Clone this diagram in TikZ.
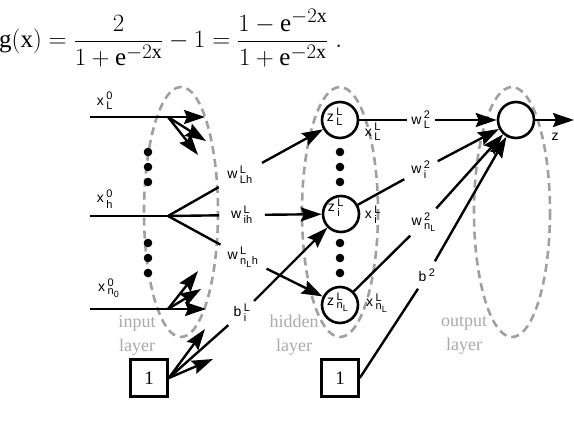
\documentclass[tikz,border=0pt]{standalone}
\usepackage{amsmath}
\usepackage{fontspec}
\setmainfont{Liberation Serif}
\setsansfont{Liberation Sans}
\usetikzlibrary{arrows.meta, positioning}
\definecolor{dashgray}{RGB}{160,160,160}
\definecolor{textgray}{RGB}{170,170,170}
\DeclareMathSizes{14}{14}{11}{9}
\DeclareMathSizes{25}{25}{20}{16}
\newcommand{\wl}[3]{$\mathsf{#1}\,{}^{\mathsf{#2}}_{\mathsf{#3}}$}

\begin{document}
\begin{tikzpicture}[x=1pt, y=-1pt,
  wire/.style={line width=2.4pt},
  arr/.style={wire, -{Stealth[length=21pt, width=14pt, inset=3pt]}},
  layer/.style={dashgray, line width=2.6pt, dash pattern=on 8pt off 5pt},
  neuron/.style={circle, draw, line width=2.6pt, minimum size=36pt, inner sep=0pt},
  bias/.style={draw, line width=2.6pt, minimum size=37pt, inner sep=0pt, font=\fontsize{19}{22}\selectfont},
  lab/.style={font=\fontsize{14}{16}\selectfont\sffamily, inner sep=1pt},
  wgap/.style 2 args={lab, inner xsep=#1, inner ysep=#2},
  layertext/.style={textgray, align=center, font=\fontsize{18}{24}\selectfont}]
  \useasboundingbox (0,0) rectangle (574,432);

  % formula
  \node[anchor=west, inner sep=0pt, font=\fontsize{25}{30}\selectfont] (gx) at (-1,38)
    {$\displaystyle \mathrm{g}(\mathrm{x}) = \frac{2}{1+\mathrm{e}^{-2\mathrm{x}}} - 1
      = \frac{1-\mathrm{e}^{-2\mathrm{x}}}{1+\mathrm{e}^{-2\mathrm{x}}}\;.$};

  % layers
  \draw[layer] (181,212) ellipse (37 and 125);
  \draw[layer] (340,212) ellipse (38 and 125);
  \draw[layer] (512,212) ellipse (38 and 125);
  \node[layertext] (inlay) at (137,335) {input\\layer};
  \node[layertext] (hidlay) at (294,335) {hidden\\layer};
  \node[layertext] (outlay) at (464,335) {output\\layer};

  % dots
  \foreach \y in {152,167,182,243,258,273} {
    \fill (148,\y) circle (4.3);
    \fill (340,\y) circle (4.3);
  }

  % neurons
  \node[neuron] (hL) at (340,120) {};
  \node[neuron] (hi) at (341,214) {};
  \node[neuron] (hn) at (340,305) {};
  \node[neuron] (out) at (516,120) {};
  \node[bias] (one1) at (149,378) {1};
  \node[bias] (one2) at (340,378) {1};

  % input side
  \coordinate (sL) at (90,117);
  \coordinate (sh) at (90,216);
  \coordinate (sn) at (90,309);
  \coordinate (iL) at (168,117);
  \coordinate (ih) at (168,216);
  \coordinate (inn) at (168,309);
  \coordinate (tL1) at (205,117);
  \coordinate (tL2) at (206,141);
  \coordinate (tL3) at (198,155);
  \coordinate (tn1) at (198,271);
  \coordinate (tn2) at (201,289);
  \coordinate (tn3) at (206,309);
  \coordinate (tb1) at (205,329);
  \coordinate (tb2) at (213,359);
  \coordinate (zend) at (574,120);

  \node[lab] (xL0) at (105,101) {\wl{x}{0}{L}};
  \node[lab] (xh0) at (105,199) {\wl{x}{0}{h}};
  \node[lab] (xn0) at (109,288) {\wl{x}{0}{n_0}};

  \draw[wire] (sL) -- (iL);
  \draw[wire] (sh) -- (ih);
  \draw[wire] (sn) -- (inn);
  \draw[arr] (iL) -- (tL1);
  \draw[arr] (iL) -- (tL2);
  \draw[arr] (iL) -- (tL3);
  \draw[arr] (inn) -- (tn1);
  \draw[arr] (inn) -- (tn2);
  \draw[arr] (inn) -- (tn3);
  \draw[arr] (one1.east) -- (tb1);
  \draw[arr] (one1.east) -- (tb2);

  % input to hidden
  \node[wgap={11pt}{3pt}] (wLh) at (240,175) {\wl{w}{L}{Lh}};
  \node[wgap={12pt}{2pt}] (wih) at (242,215) {\wl{w}{L}{ih}};
  \node[wgap={8pt}{2pt}] (wnh) at (243,257) {\wl{w}{L}{n_Lh}};
  \node[wgap={8pt}{3pt}] (bi) at (242,313) {\wl{b}{L}{i}};
  \draw[wire] (ih) -- (wLh);
  \draw[wire] (ih) -- (wih);
  \draw[wire] (ih) -- (wnh);
  \draw[wire] (one1.east) -- (bi);
  \draw[arr] (wLh) -- (hL);
  \draw[arr] (wih) -- (hi);
  \draw[arr] (wnh) -- (hn);
  \draw[arr] (bi) -- (hi);

  % hidden labels
  \node[lab] (zL) at (335,117) {\wl{z}{L}{L}};
  \node[lab] (zi) at (336,208) {\wl{z}{L}{i}};
  \node[lab] (zn) at (338,302) {\wl{z}{L}{n_L}};
  \node[lab] (xLL) at (373,132) {\wl{x}{L}{L}};
  \node[lab] (xiL) at (373,215) {\wl{x}{L}{i}};
  \node[lab] (xnL) at (377,303) {\wl{x}{L}{n_L}};

  % hidden to output
  \node[wgap={4pt}{2pt}] (wL2) at (421,120) {\wl{w}{2}{L}};
  \node[wgap={7pt}{2pt}] (wi2) at (421,170) {\wl{w}{2}{i}};
  \node[wgap={3pt}{4pt}] (wn2) at (424,222) {\wl{w}{2}{n_L}};
  \node[wgap={2pt}{7pt}] (b2) at (427,275) {$\mathsf{b}\,{}^{\mathsf{2}}$};
  \draw[wire] (hL) -- (wL2);
  \draw[wire] (hi) -- (wi2);
  \draw[wire] (hn) -- (wn2);
  \draw[wire] (one2.east) -- (b2);
  \draw[arr] (wL2) -- (out);
  \draw[arr] (wi2) -- (out);
  \draw[arr] (wn2) -- (out);
  \draw[arr] (b2) -- (out);

  % output
  \draw[arr] (out) -- (zend);
  \node[lab] (z) at (555,137) {\textsf{z}};
\end{tikzpicture}
\end{document}
